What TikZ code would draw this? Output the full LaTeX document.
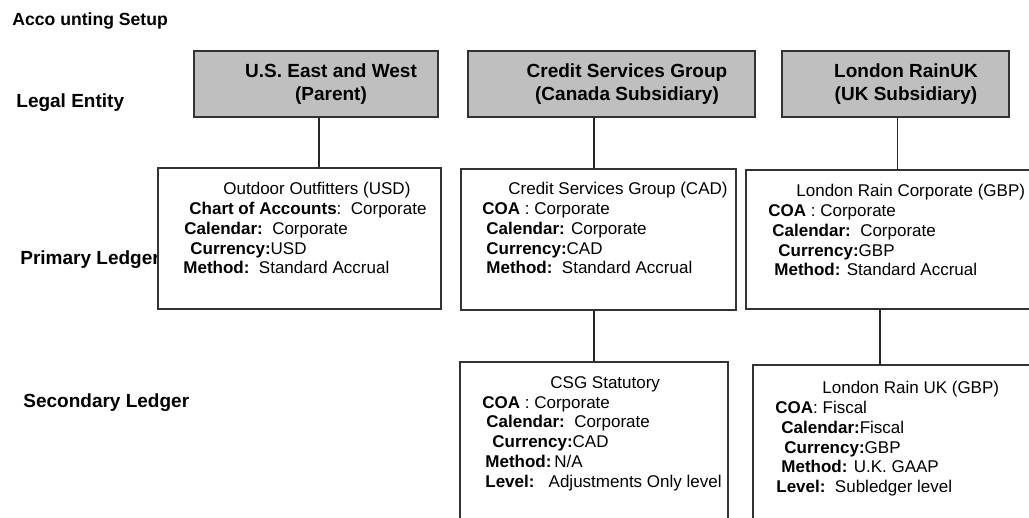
\documentclass[tikz,border=0pt]{standalone}
\usepackage{fontspec}
\setmainfont{Liberation Sans}

\begin{document}
\begin{tikzpicture}[x=0.5pt,y=-0.5pt,
	entity/.style={draw=black!80,line width=0.75pt,fill=black!25,minimum height=33pt,inner sep=0pt},
	ledger/.style={draw=black!80,line width=0.75pt,fill=white,inner sep=0pt},
	rowname/.style={anchor=base west,inner sep=0pt,font=\fontsize{9.5}{11}\selectfont\bfseries},
	heading/.style={align=center,inner sep=0pt,font=\fontsize{9.5}{11.5}\selectfont\bfseries},
	info/.style={anchor=north west,align=left,inner sep=0pt,font=\fontsize{8.5}{9.9}\selectfont},
	conn/.style={draw=black!85,line width=0.7pt}]
	\clip (0,0) rectangle (1029,518);

	\node (title) [rowname,font=\fontsize{8.8}{10}\selectfont\bfseries] at (12,26) {Acco unting Setup};
	\node (le) [rowname] at (16,108) {Legal Entity};
	\node (pl) [rowname] at (20,265) {Primary Ledger};
	\node (sl) [rowname] at (23,408) {Secondary Ledger};

	\node (us) [entity,minimum width=122pt] at (316,84) {};
	\node (csg) [entity,minimum width=143.5pt] at (611.5,84) {};
	\node (lr) [entity,minimum width=113.5pt] at (895.5,84) {};
	\node (usname) [heading] at (331,84) {U.S. East and West\\(Parent)};
	\node (csgname) [heading] at (627,84) {Credit Services Group\\(Canada Subsidiary)};
	\node (lrname) [heading] at (906,84) {London RainUK\\(UK Subsidiary)};

	\node (usl) [ledger,minimum width=141.5pt,minimum height=70.5pt] at (299.5,238.5) {};
	\node (csgl) [ledger,minimum width=137.5pt,minimum height=70.5pt] at (598.5,239.5) {};
	\node (lrl) [ledger,minimum width=150pt,minimum height=69.5pt] at (896,239.5) {};
	\node (csgs) [ledger,minimum width=134pt,minimum height=89pt] at (594,451) {};
	\node (lrs) [ledger,minimum width=150pt,minimum height=87.5pt] at (903,452.5) {};

	\coordinate (lrx) at (880,0);
	\draw[conn] ([xshift=1.5pt]us.south) -- ([xshift=1.5pt]us.south |- usl.north);
	\draw[conn] (csg.south -| csgs.north) -- (csgl.north -| csgs.north);
	\draw[conn] (csgl.south -| csgs.north) -- (csgs.north);
	\draw[conn] ([xshift=1pt]lr.south) -- ([xshift=1pt]lr.south |- lrl.north);
	\draw[conn] (lrl.south -| lrx) -- (lrs.north -| lrx);

	\node (usinfo) [info] at (183,182) {\hspace*{20pt}Outdoor Outfitters (USD)\\
		\hspace*{3pt}\textbf{Chart of Accounts}:~~Corporate\\
		\hspace*{0.5pt}\textbf{Calendar:}~~Corporate\\
		\hspace*{3.5pt}\textbf{Currency:}USD\\
		\textbf{Method:}~~Standard Accrual};
	\node (csginfo) [info] at (482,182) {\hspace*{13pt}Credit Services Group (CAD)\\
		\textbf{COA} : Corporate\\
		\hspace*{2pt}\textbf{Calendar:} Corporate\\
		\hspace*{2pt}\textbf{Currency:}CAD\\
		\hspace*{2pt}\textbf{Method:}~~Standard Accrual};
	\node (lrinfo) [info] at (768,184) {\hspace*{14pt}London Rain Corporate (GBP)\\
		\textbf{COA} : Corporate\\
		\hspace*{2pt}\textbf{Calendar:}~~Corporate\\
		\hspace*{5pt}\textbf{Currency:}GBP\\
		\hspace*{3pt}\textbf{Method:} Standard Accrual};
	\node (csgsinfo) [info] at (482,376) {\hspace*{34pt}CSG Statutory\\
		\textbf{COA} : Corporate\\
		\hspace*{2pt}\textbf{Calendar:}~~Corporate\\
		\hspace*{5pt}\textbf{Currency:}CAD\\
		\hspace*{1.5pt}\textbf{Method:}\,N/A\\
		\hspace*{1.5pt}\textbf{Level:}~~~Adjustments Only level};
	\node (lrsinfo) [info] at (775,381) {\hspace*{23.5pt}London Rain UK (GBP)\\
		\textbf{COA}: Fiscal\\
		\hspace*{3pt}\textbf{Calendar:}Fiscal\\
		\hspace*{4.5pt}\textbf{Currency:}GBP\\
		\hspace*{3pt}\textbf{Method:} U.K. GAAP\\
		\hspace*{0.5pt}\textbf{Level:}~~Subledger level};
\end{tikzpicture}
\end{document}
